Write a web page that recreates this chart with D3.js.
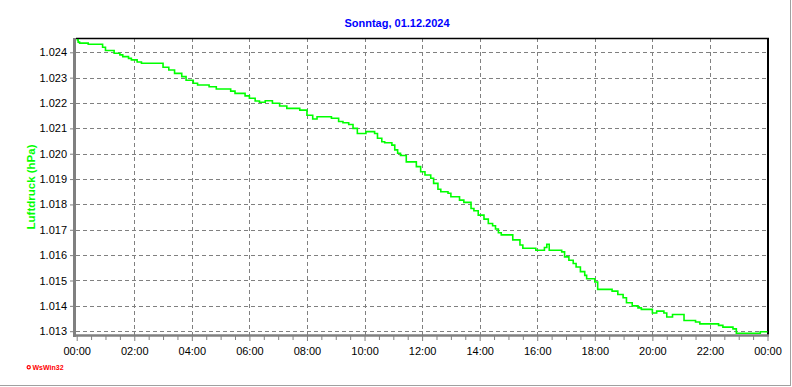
<!DOCTYPE html>
<html>
<head>
<meta charset="utf-8">
<script src="https://cdn.jsdelivr.net/npm/d3@7"></script>
<style>
  body { margin: 0; background: #fff; }
  text { font-family: "Liberation Sans", Arial, sans-serif; }
</style>
</head>
<body>
<div id="chart"></div>
<script>
const width = 792;
const height = 387;
const lineGreen = '#00ff00';
const gridGrey = '#808080';

const title = 'Sonntag, 01.12.2024';
const yLabel = 'Luftdruck (hPa)';

// readings, step after each time
const times = [
  '00:00', '00:03', '00:06', '00:24', '00:54', '01:00', '01:18', '01:30', '01:36', '01:48',
  '01:54', '02:06', '02:15', '03:00', '03:12', '03:24', '03:39', '03:48', '04:03', '04:12',
  '04:36', '04:51', '05:21', '05:30', '05:51', '06:00', '06:12', '06:21', '06:33', '06:48',
  '07:03', '07:18', '07:45', '08:00', '08:12', '08:21', '08:51', '09:06', '09:15', '09:27',
  '09:36', '09:45', '10:03', '10:21', '10:27', '10:36', '10:42', '10:57', '11:03', '11:09',
  '11:15', '11:27', '11:48', '11:57', '12:06', '12:18', '12:24', '12:33', '12:39', '12:54',
  '13:00', '13:18', '13:27', '13:42', '13:48', '13:57', '14:09', '14:18', '14:27', '14:33',
  '14:39', '14:45', '15:09', '15:24', '15:30', '15:57', '16:15', '16:20', '16:25', '16:51',
  '16:57', '17:06', '17:15', '17:21', '17:30', '17:39', '17:43', '18:00', '18:06', '18:36',
  '18:48', '18:59', '19:06', '19:18', '19:30', '19:37', '20:00', '20:09', '20:24', '20:30',
  '20:42', '21:06', '21:30', '21:39', '22:18', '22:27', '22:48', '22:55', '23:45', '24:00'
];

const pressure = [
  1.02449, 1.02440, 1.02436, 1.02432, 1.02420, 1.02407, 1.02396, 1.02390, 1.02383, 1.02376,
  1.02370, 1.02362, 1.02357, 1.02341, 1.02330, 1.02317, 1.02304, 1.02290, 1.02278, 1.02271,
  1.02264, 1.02255, 1.02247, 1.02238, 1.02228, 1.02219, 1.02208, 1.02203, 1.02209, 1.02199,
  1.02188, 1.02179, 1.02172, 1.02152, 1.02137, 1.02146, 1.02140, 1.02127, 1.02122, 1.02115,
  1.02100, 1.02080, 1.02087, 1.02080, 1.02061, 1.02047, 1.02043, 1.02034, 1.02015, 1.02002,
  1.01993, 1.01968, 1.01949, 1.01929, 1.01916, 1.01903, 1.01883, 1.01860, 1.01850, 1.01844,
  1.01830, 1.01817, 1.01808, 1.01784, 1.01775, 1.01758, 1.01742, 1.01725, 1.01716, 1.01703,
  1.01688, 1.01680, 1.01660, 1.01640, 1.01627, 1.01619, 1.01630, 1.01643, 1.01619, 1.01613,
  1.01593, 1.01580, 1.01567, 1.01553, 1.01535, 1.01520, 1.01507, 1.01494, 1.01465, 1.01458,
  1.01445, 1.01432, 1.01412, 1.01400, 1.01392, 1.01386, 1.01372, 1.01379, 1.01372, 1.01356,
  1.01366, 1.01342, 1.01336, 1.01329, 1.01323, 1.01316, 1.01309, 1.01292, 1.01298, 1.01298
];

const yTicks = [1.013, 1.014, 1.015, 1.016, 1.017, 1.018, 1.019, 1.020, 1.021, 1.022, 1.023, 1.024];
const xTicks = [0, 2, 4, 6, 8, 10, 12, 14, 16, 18, 20, 22, 24];
const xTickLabels = ['00:00', '02:00', '04:00', '06:00', '08:00', '10:00', '12:00',
  '14:00', '16:00', '18:00', '20:00', '22:00', '00:00'];

buildChart();

function toHours(s) {
    const p = s.split(':');
    return +p[0] + +p[1] / 60;
}

function buildChart() {

    const plotLeft = 76;
    const plotRight = 768;
    const plotTop = 38;
    const plotBottom = 335.5;

    const svg = d3.select('#chart')
        .append('svg')
        .attr('width', width)
        .attr('height', height);

    const x = d3.scaleLinear()
        .domain([0, 24])
        .range([76.7, 767.5]);

    const y = d3.scaleLinear()
        .domain([1.013, 1.024])
        .range([331.2, 52.3]);

    // frame on right and bottom
    svg.append('line')
        .attr('x1', 790.5).attr('x2', 790.5)
        .attr('y1', 0).attr('y2', 386)
        .attr('stroke', '#a0a0a0');
    svg.append('line')
        .attr('x1', 0).attr('x2', 791)
        .attr('y1', 385.5).attr('y2', 385.5)
        .attr('stroke', '#a0a0a0');

    // Grid
    svg.append('g')
        .selectAll('line')
        .data(yTicks)
        .enter()
        .append('line')
        .attr('x1', plotLeft)
        .attr('x2', plotRight)
        .attr('y1', (d) => Math.round(y(d)) + 0.5)
        .attr('y2', (d) => Math.round(y(d)) + 0.5)
        .attr('stroke', gridGrey)
        .attr('stroke-dasharray', '4,3');

    svg.append('g')
        .selectAll('line')
        .data(xTicks.slice(1, -1))
        .enter()
        .append('line')
        .attr('x1', (d) => Math.round(x(d)) + 0.5)
        .attr('x2', (d) => Math.round(x(d)) + 0.5)
        .attr('y1', plotTop)
        .attr('y2', plotBottom)
        .attr('stroke', gridGrey)
        .attr('stroke-dasharray', '4,3');

    // top and right border
    svg.append('line')
        .attr('x1', plotLeft).attr('x2', plotRight + 1)
        .attr('y1', 38.5).attr('y2', 38.5)
        .attr('stroke', '#000')
        .attr('stroke-width', 1.5);
    svg.append('line')
        .attr('x1', plotRight).attr('x2', plotRight)
        .attr('y1', 38).attr('y2', plotBottom)
        .attr('stroke', '#000')
        .attr('stroke-width', 2);

    // Pressure line
    const points = times.map((t, i) => ({h: toHours(t), v: pressure[i]}));

    const pressureLine = d3.line()
        .x((d) => x(d.h))
        .y((d) => y(d.v))
        .curve(d3.curveStepAfter);

    svg.append('path')
        .datum(points)
        .attr('d', pressureLine)
        .attr('fill', 'none')
        .attr('stroke', lineGreen)
        .attr('stroke-width', 1.6);

    // Y axis
    const yAxis = svg.append('g')
        .attr('transform', 'translate(74, 0)')
        .call(d3.axisLeft(y)
            .tickValues(yTicks)
            .tickFormat(d3.format('.3f'))
            .tickSize(4)
            .tickPadding(3));
    yAxis.select('.domain').remove();
    yAxis.selectAll('.tick line').attr('stroke', gridGrey);
    yAxis.selectAll('text')
        .attr('font-family', '"Liberation Sans", Arial, sans-serif')
        .attr('font-size', 11)
        .attr('fill', '#000');

    // X axis, minor ticks every 30 minutes
    const minor = d3.range(0, 24.01, 0.5).filter((d) => d % 2 !== 0);
    svg.append('g')
        .attr('transform', 'translate(0, 336)')
        .call(d3.axisBottom(x).tickValues(minor).tickSize(4).tickFormat(''))
        .call((g) => g.select('.domain').remove())
        .selectAll('line').attr('stroke', gridGrey);

    const xAxis = svg.append('g')
        .attr('transform', 'translate(0, 336)')
        .call(d3.axisBottom(x)
            .tickValues(xTicks)
            .tickFormat((d, i) => xTickLabels[i])
            .tickSize(5)
            .tickPadding(6));
    xAxis.select('.domain').remove();
    xAxis.selectAll('.tick line').attr('stroke', gridGrey);
    xAxis.selectAll('text')
        .attr('font-family', '"Liberation Sans", Arial, sans-serif')
        .attr('font-size', 11)
        .attr('fill', '#000');

    // thick grey axis lines
    svg.append('line')
        .attr('x1', 74.5).attr('x2', 74.5)
        .attr('y1', 38).attr('y2', 337)
        .attr('stroke', gridGrey)
        .attr('stroke-width', 3);
    svg.append('line')
        .attr('x1', 73).attr('x2', plotRight + 1)
        .attr('y1', 335.5).attr('y2', 335.5)
        .attr('stroke', gridGrey)
        .attr('stroke-width', 2.5);

    // Title
    svg.append('text')
        .attr('x', 397)
        .attr('y', 27)
        .attr('text-anchor', 'middle')
        .attr('font-size', 11)
        .attr('font-weight', 'bold')
        .attr('fill', '#0000ff')
        .text(title);

    // Y label
    svg.append('text')
        .attr('transform', 'translate(35, 187) rotate(-90)')
        .attr('text-anchor', 'middle')
        .attr('font-size', 11.5)
        .attr('font-weight', 'bold')
        .attr('fill', lineGreen)
        .text(yLabel);

    // logo
    svg.append('circle')
        .attr('cx', 28.7)
        .attr('cy', 367.2)
        .attr('r', 1.6)
        .attr('fill', 'none')
        .attr('stroke', '#ff0000')
        .attr('stroke-width', 1.2);
    svg.append('text')
        .attr('x', 32.5)
        .attr('y', 369.5)
        .attr('font-size', 7)
        .attr('font-weight', 'bold')
        .attr('fill', '#ff0000')
        .text('WsWin32');
}
</script>
</body>
</html>
